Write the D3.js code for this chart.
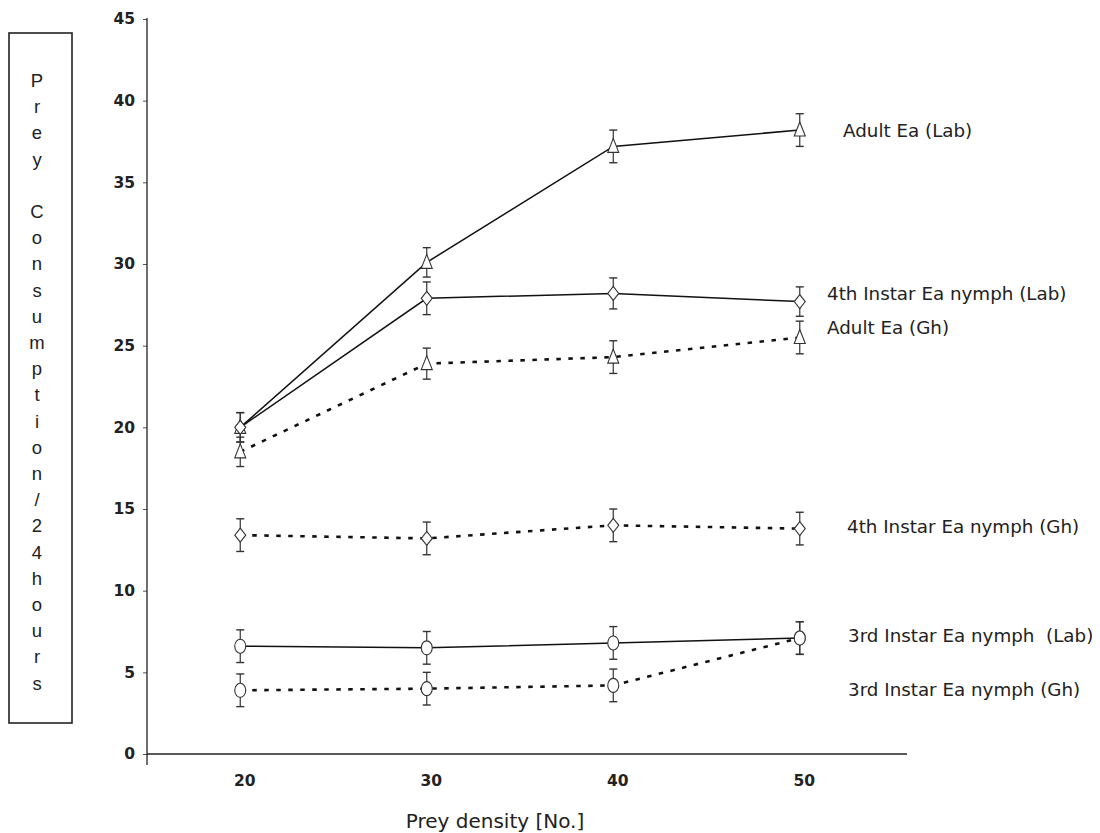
<!DOCTYPE html>
<html>
<head>
<meta charset="utf-8">
<script src="https://cdn.jsdelivr.net/npm/d3@7"></script>
<style>
  html, body { margin: 0; padding: 0; background: #fff; }
  svg { display: block; }
</style>
</head>
<body>
<svg id="chart" width="1100" height="833"></svg>
<script>
// ---------- DATA ----------
const densities = [20, 30, 40, 50];
const yTicks = [0, 5, 10, 15, 20, 25, 30, 35, 40, 45];

const adultLabMean  = [20.0, 30.1, 37.2, 38.2];
const adultLabErr   = [0.9, 0.9, 1.0, 1.0];
const nymph4LabMean = [20.0, 27.9, 28.2, 27.7];
const nymph4LabErr  = [0.9, 1.0, 0.95, 0.9];
const adultGhMean   = [18.5, 23.9, 24.3, 25.5];
const adultGhErr    = [0.9, 0.95, 1.0, 1.0];
const nymph4GhMean  = [13.4, 13.2, 14.0, 13.8];
const nymph4GhErr   = [1.0, 1.0, 1.0, 1.0];
const nymph3LabMean = [6.6, 6.5, 6.8, 7.1];
const nymph3LabErr  = [1.0, 1.0, 1.0, 1.0];
const nymph3GhMean  = [3.9, 4.0, 4.2, 7.1];
const nymph3GhErr   = [1.0, 1.0, 1.0, 1.0];

const seriesNames = [
  "Adult Ea (Lab)",
  "4th Instar Ea nymph (Lab)",
  "Adult Ea (Gh)",
  "4th Instar Ea nymph (Gh)",
  "3rd Instar Ea nymph\u00a0\u00a0(Lab)",
  "3rd Instar Ea nymph (Gh)"
];
const yTitle = "Prey Consumption/24hours";
const xTitle = "Prey density [No.]";

// ---------- BUILD ----------
const series = [
  {name: seriesNames[0], mean: adultLabMean,  err: adultLabErr,  shape: "tri",  dotted: false, lx: 843, lv: 38.15},
  {name: seriesNames[1], mean: nymph4LabMean, err: nymph4LabErr, shape: "dia",  dotted: false, lx: 827, lv: 28.2},
  {name: seriesNames[2], mean: adultGhMean,   err: adultGhErr,   shape: "tri",  dotted: true,  lx: 827, lv: 26.1},
  {name: seriesNames[3], mean: nymph4GhMean,  err: nymph4GhErr,  shape: "dia",  dotted: true,  lx: 847, lv: 13.9},
  {name: seriesNames[4], mean: nymph3LabMean, err: nymph3LabErr, shape: "circ", dotted: false, lx: 848, lv: 7.25},
  {name: seriesNames[5], mean: nymph3GhMean,  err: nymph3GhErr,  shape: "circ", dotted: true,  lx: 848, lv: 3.95}
];

const svg = d3.select("#chart");
const x = d3.scaleLinear().domain([15, 55.75]).range([147, 907]);
const y = d3.scaleLinear().domain([0, 45]).range([754, 19]);

// Y axis
const yAxis = svg.append("g")
  .attr("transform", `translate(${x(15)},0)`)
  .call(d3.axisLeft(y).tickValues(yTicks).tickSize(4).tickPadding(8).tickFormat(d3.format("d")));
yAxis.select(".domain").remove();
yAxis.selectAll(".tick line").attr("stroke", "#555").attr("stroke-width", 1);
yAxis.selectAll(".tick text")
  .attr("font-family", "DejaVu Sans, Verdana, sans-serif")
  .attr("font-weight", "bold")
  .attr("font-size", 15.5)
  .attr("fill", "#222");
svg.append("line")
  .attr("x1", x(15)).attr("x2", x(15))
  .attr("y1", y(45) - 1).attr("y2", y(0) + 11)
  .attr("stroke", "#222").attr("stroke-width", 1.3);

// X axis
const xAxis = svg.append("g")
  .attr("transform", `translate(0,${y(0)})`)
  .call(d3.axisBottom(x).tickValues(densities).tickSize(0).tickPadding(21).tickFormat(d3.format("d")));
xAxis.select(".domain").remove();
xAxis.selectAll(".tick text")
  .attr("dx", 4)
  .attr("font-family", "DejaVu Sans, Verdana, sans-serif")
  .attr("font-weight", "bold")
  .attr("font-size", 15.5)
  .attr("fill", "#222");
svg.append("line")
  .attr("x1", x(15)).attr("x2", x(55.75))
  .attr("y1", y(0)).attr("y2", y(0))
  .attr("stroke", "#222").attr("stroke-width", 1.6);

// X title
svg.append("text")
  .attr("x", 495).attr("y", 828)
  .attr("text-anchor", "middle")
  .attr("font-family", "DejaVu Sans, Verdana, sans-serif")
  .attr("font-size", 20)
  .attr("fill", "#222")
  .text(xTitle);

// Y title box with stacked letters
svg.append("rect")
  .attr("x", 9).attr("y", 33).attr("width", 63).attr("height", 690)
  .attr("fill", "none").attr("stroke", "#222").attr("stroke-width", 1.6);
const yt = svg.append("text")
  .attr("font-family", "Liberation Sans, Arial, sans-serif")
  .attr("font-size", 18.5)
  .attr("fill", "#222")
  .attr("text-anchor", "middle");
yTitle.split("").forEach((ch, i) => {
  yt.append("tspan")
    .attr("x", 37)
    .attr("y", 87 + i * 26.2)
    .text(ch === " " ? "\u00a0" : ch);
});

// Lines
const line = d3.line().x((d, i) => x(densities[i])).y(d => y(d));
const plot = svg.append("g");
series.forEach(s => {
  plot.append("path")
    .datum(s.mean)
    .attr("d", line)
    .attr("fill", "none")
    .attr("stroke", "#111")
    .attr("stroke-width", s.dotted ? 2.6 : 1.5)
    .attr("stroke-dasharray", s.dotted ? "4.5,7.5" : null);
});

// Error bars
series.forEach(s => {
  const g = plot.append("g");
  s.mean.forEach((m, i) => {
    const cx = x(densities[i]);
    const top = y(m + s.err[i]), bot = y(m - s.err[i]);
    g.append("line").attr("x1", cx).attr("x2", cx).attr("y1", top).attr("y2", bot)
      .attr("stroke", "#333").attr("stroke-width", 1.2);
    [top, bot].forEach(yy => {
      g.append("line").attr("x1", cx - 4).attr("x2", cx + 4).attr("y1", yy).attr("y2", yy)
        .attr("stroke", "#333").attr("stroke-width", 1.4);
    });
  });
});

// Markers
series.forEach(s => {
  const g = plot.append("g");
  s.mean.forEach((m, i) => {
    const cx = x(densities[i]), cy = y(m);
    let el;
    if (s.shape === "tri") {
      el = g.append("path").attr("d", `M${cx},${cy - 8} L${cx + 5.5},${cy + 6} L${cx - 5.5},${cy + 6} Z`);
    } else if (s.shape === "dia") {
      el = g.append("path").attr("d", `M${cx},${cy - 7} L${cx + 5.5},${cy} L${cx},${cy + 7} L${cx - 5.5},${cy} Z`);
    } else {
      el = g.append("ellipse").attr("cx", cx).attr("cy", cy).attr("rx", 5.5).attr("ry", 7);
    }
    el.attr("fill", "#fff").attr("stroke", "#333").attr("stroke-width", 1.1);
  });
});

// Series labels
series.forEach(s => {
  svg.append("text")
    .attr("x", s.lx)
    .attr("y", y(s.lv))
    .attr("dy", "0.35em")
    .attr("font-family", "DejaVu Sans, Verdana, sans-serif")
    .attr("font-size", 18.3)
    .attr("fill", "#222")
    .text(s.name);
});
</script>
</body>
</html>
